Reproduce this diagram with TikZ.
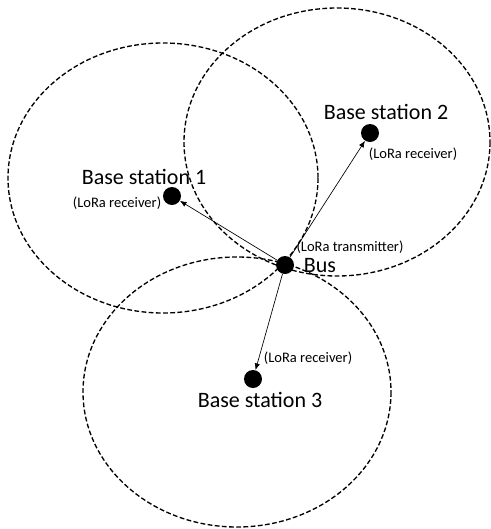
\documentclass[tikz,border=0pt]{standalone}
\usepackage{fontspec}
\setmainfont{Carlito}
\usetikzlibrary{arrows.meta}
\begin{document}
\begin{tikzpicture}[x=0.75pt,y=-0.75pt,
  zone/.style={draw=black,line width=1pt,dash pattern=on 3.6pt off 1.8pt},
  dot/.style={circle,fill=black,inner sep=0pt,minimum size=13.5pt},
  signal/.style={draw=black,line width=0.5pt,-{Latex[length=5pt,width=4pt]}},
  bigtext/.style={inner sep=0pt,font=\fontsize{16.5pt}{19pt}\selectfont},
  smalltext/.style={inner sep=0pt,font=\fontsize{10.9pt}{13pt}\selectfont}]
\useasboundingbox (0,0) rectangle (490,529);
% coverage zones
\draw[zone] (163,178) ellipse [x radius=155, y radius=135];
\draw[zone] (337,142) ellipse [x radius=153, y radius=134];
\draw[zone] (237,392) ellipse [x radius=154, y radius=135];
% stations
\node[dot] (bus) at (285,265) {};
\node[dot] (bs1) at (172,196) {};
\node[dot] (bs2) at (370,133) {};
\node[dot] (bs3) at (253,379) {};
% links
\draw[signal] (bus) -- (bs1);
\draw[signal] (bus) -- (bs2);
\draw[signal] (bus) -- (bs3);
% labels
\node[bigtext] (t1) at (144,177) {Base station 1};
\node[smalltext] (r1) at (117,203) {(LoRa receiver)};
\node[bigtext] (t2) at (386,112) {Base station 2};
\node[smalltext] (r2) at (413,154) {(LoRa receiver)};
\node[smalltext] (tx) at (350,247) {(LoRa transmitter)};
\node[bigtext] (tb) at (320,266) {Bus};
\node[smalltext] (r3) at (308,358) {(LoRa receiver)};
\node[bigtext] (t3) at (260,400) {Base station 3};
\end{tikzpicture}
\end{document}
